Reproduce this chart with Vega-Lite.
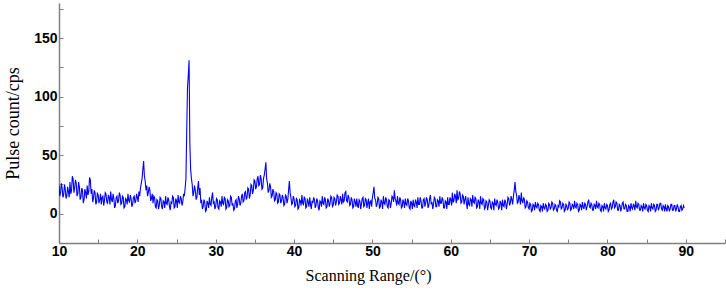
{
  "$schema": "https://vega.github.io/schema/vega-lite/v6.json",
  "autosize": {"type": "none"},
  "padding": {"left": 59, "top": 3, "right": 1, "bottom": 49},
  "width": 666,
  "height": 240,
  "background": "white",
  "config": {"view": {"stroke": null}},
  "data": {"values": [
{"x":10.0,"y":24},{"x":10.1,"y":15},{"x":10.2,"y":18},{"x":10.3,"y":26},{"x":10.4,"y":22},{"x":10.5,"y":14},{"x":10.6,"y":16},{"x":10.7,"y":25},{"x":10.8,"y":21},{"x":10.9,"y":13},
{"x":11.0,"y":15},{"x":11.1,"y":23},{"x":11.2,"y":19},{"x":11.3,"y":14},{"x":11.4,"y":27},{"x":11.5,"y":17},{"x":11.6,"y":20},{"x":11.7,"y":32},{"x":11.8,"y":30},{"x":11.9,"y":18},
{"x":12.0,"y":22},{"x":12.1,"y":29},{"x":12.2,"y":26},{"x":12.3,"y":15},{"x":12.4,"y":17},{"x":12.5,"y":27},{"x":12.6,"y":23},{"x":12.7,"y":12},{"x":12.8,"y":14},{"x":12.9,"y":22},
{"x":13.0,"y":20},{"x":13.1,"y":9},{"x":13.2,"y":12},{"x":13.3,"y":21},{"x":13.4,"y":18},{"x":13.5,"y":13},{"x":13.6,"y":24},{"x":13.7,"y":16},{"x":13.8,"y":19},{"x":13.9,"y":31},
{"x":14.0,"y":29},{"x":14.1,"y":17},{"x":14.2,"y":21},{"x":14.3,"y":10},{"x":14.4,"y":13},{"x":14.5,"y":20},{"x":14.6,"y":18},{"x":14.7,"y":8},{"x":14.8,"y":10},{"x":14.9,"y":18},
{"x":15.0,"y":16},{"x":15.1,"y":9},{"x":15.2,"y":12},{"x":15.3,"y":17},{"x":15.4,"y":8},{"x":15.5,"y":14},{"x":15.6,"y":15},{"x":15.7,"y":7},{"x":15.8,"y":11},{"x":15.9,"y":18},
{"x":16.0,"y":17},{"x":16.1,"y":10},{"x":16.2,"y":9},{"x":16.3,"y":16},{"x":16.4,"y":14},{"x":16.5,"y":8},{"x":16.6,"y":19},{"x":16.7,"y":12},{"x":16.8,"y":10},{"x":16.9,"y":17},
{"x":17.0,"y":13},{"x":17.1,"y":5},{"x":17.2,"y":7},{"x":17.3,"y":14},{"x":17.4,"y":15},{"x":17.5,"y":9},{"x":17.6,"y":11},{"x":17.7,"y":18},{"x":17.8,"y":16},{"x":17.9,"y":8},
{"x":18.0,"y":9},{"x":18.1,"y":15},{"x":18.2,"y":14},{"x":18.3,"y":5},{"x":18.4,"y":6},{"x":18.5,"y":13},{"x":18.6,"y":12},{"x":18.7,"y":8},{"x":18.8,"y":17},{"x":18.9,"y":11},
{"x":19.0,"y":10},{"x":19.1,"y":16},{"x":19.2,"y":13},{"x":19.3,"y":6},{"x":19.4,"y":8},{"x":19.5,"y":14},{"x":19.6,"y":15},{"x":19.7,"y":9},{"x":19.8,"y":11},{"x":19.9,"y":17},
{"x":20.0,"y":14},{"x":20.1,"y":10},{"x":20.2,"y":19},{"x":20.3,"y":15},{"x":20.4,"y":22},{"x":20.5,"y":26},{"x":20.6,"y":30},{"x":20.7,"y":38},{"x":20.8,"y":45},{"x":20.9,"y":32},
{"x":21.0,"y":28},{"x":21.1,"y":20},{"x":21.2,"y":24},{"x":21.3,"y":15},{"x":21.4,"y":18},{"x":21.5,"y":23},{"x":21.6,"y":20},{"x":21.7,"y":11},{"x":21.8,"y":13},{"x":21.9,"y":17},
{"x":22.0,"y":9},{"x":22.1,"y":15},{"x":22.2,"y":14},{"x":22.3,"y":6},{"x":22.4,"y":5},{"x":22.5,"y":12},{"x":22.6,"y":11},{"x":22.7,"y":4},{"x":22.8,"y":7},{"x":22.9,"y":14},
{"x":23.0,"y":13},{"x":23.1,"y":6},{"x":23.2,"y":4},{"x":23.3,"y":11},{"x":23.4,"y":10},{"x":23.5,"y":5},{"x":23.6,"y":15},{"x":23.7,"y":9},{"x":23.8,"y":8},{"x":23.9,"y":14},
{"x":24.0,"y":12},{"x":24.1,"y":6},{"x":24.2,"y":3},{"x":24.3,"y":10},{"x":24.4,"y":9},{"x":24.5,"y":15},{"x":24.6,"y":14},{"x":24.7,"y":5},{"x":24.8,"y":6},{"x":24.9,"y":13},
{"x":25.0,"y":11},{"x":25.1,"y":5},{"x":25.2,"y":16},{"x":25.3,"y":10},{"x":25.4,"y":9},{"x":25.5,"y":15},{"x":25.6,"y":13},{"x":25.7,"y":7},{"x":25.8,"y":10},{"x":25.9,"y":17},
{"x":26.0,"y":15},{"x":26.1,"y":22},{"x":26.2,"y":30},{"x":26.3,"y":70},{"x":26.4,"y":108},{"x":26.5,"y":118},{"x":26.6,"y":131},{"x":26.7,"y":60},{"x":26.8,"y":38},{"x":26.9,"y":30},
{"x":27.0,"y":25},{"x":27.1,"y":15},{"x":27.2,"y":18},{"x":27.3,"y":24},{"x":27.4,"y":20},{"x":27.5,"y":12},{"x":27.6,"y":14},{"x":27.7,"y":22},{"x":27.8,"y":28},{"x":27.9,"y":16},
{"x":28.0,"y":22},{"x":28.1,"y":9},{"x":28.2,"y":12},{"x":28.3,"y":4},{"x":28.4,"y":6},{"x":28.5,"y":12},{"x":28.6,"y":10},{"x":28.7,"y":2},{"x":28.8,"y":3},{"x":28.9,"y":11},
{"x":29.0,"y":9},{"x":29.1,"y":5},{"x":29.2,"y":14},{"x":29.3,"y":8},{"x":29.4,"y":7},{"x":29.5,"y":14},{"x":29.6,"y":18},{"x":29.7,"y":9},{"x":29.8,"y":10},{"x":29.9,"y":4},
{"x":30.0,"y":6},{"x":30.1,"y":13},{"x":30.2,"y":12},{"x":30.3,"y":5},{"x":30.4,"y":4},{"x":30.5,"y":11},{"x":30.6,"y":10},{"x":30.7,"y":6},{"x":30.8,"y":15},{"x":30.9,"y":9},
{"x":31.0,"y":8},{"x":31.1,"y":14},{"x":31.2,"y":13},{"x":31.3,"y":4},{"x":31.4,"y":5},{"x":31.5,"y":12},{"x":31.6,"y":11},{"x":31.7,"y":6},{"x":31.8,"y":7},{"x":31.9,"y":15},
{"x":32.0,"y":14},{"x":32.1,"y":7},{"x":32.2,"y":9},{"x":32.3,"y":3},{"x":32.4,"y":4},{"x":32.5,"y":11},{"x":32.6,"y":12},{"x":32.7,"y":5},{"x":32.8,"y":8},{"x":32.9,"y":15},
{"x":33.0,"y":13},{"x":33.1,"y":7},{"x":33.2,"y":9},{"x":33.3,"y":15},{"x":33.4,"y":17},{"x":33.5,"y":10},{"x":33.6,"y":11},{"x":33.7,"y":18},{"x":33.8,"y":19},{"x":33.9,"y":12},
{"x":34.0,"y":14},{"x":34.1,"y":22},{"x":34.2,"y":21},{"x":34.3,"y":13},{"x":34.4,"y":16},{"x":34.5,"y":25},{"x":34.6,"y":24},{"x":34.7,"y":17},{"x":34.8,"y":20},{"x":34.9,"y":29},
{"x":35.0,"y":28},{"x":35.1,"y":21},{"x":35.2,"y":23},{"x":35.3,"y":30},{"x":35.4,"y":32},{"x":35.5,"y":24},{"x":35.6,"y":25},{"x":35.7,"y":33},{"x":35.8,"y":30},{"x":35.9,"y":21},
{"x":36.0,"y":22},{"x":36.1,"y":30},{"x":36.2,"y":33},{"x":36.3,"y":38},{"x":36.4,"y":44},{"x":36.5,"y":30},{"x":36.6,"y":26},{"x":36.7,"y":18},{"x":36.8,"y":20},{"x":36.9,"y":26},
{"x":37.0,"y":23},{"x":37.1,"y":14},{"x":37.2,"y":15},{"x":37.3,"y":21},{"x":37.4,"y":19},{"x":37.5,"y":11},{"x":37.6,"y":12},{"x":37.7,"y":18},{"x":37.8,"y":17},{"x":37.9,"y":9},
{"x":38.0,"y":10},{"x":38.1,"y":17},{"x":38.2,"y":16},{"x":38.3,"y":9},{"x":38.4,"y":11},{"x":38.5,"y":16},{"x":38.6,"y":14},{"x":38.7,"y":7},{"x":38.8,"y":8},{"x":38.9,"y":16},
{"x":39.0,"y":15},{"x":39.1,"y":9},{"x":39.2,"y":12},{"x":39.3,"y":20},{"x":39.4,"y":28},{"x":39.5,"y":18},{"x":39.6,"y":14},{"x":39.7,"y":8},{"x":39.8,"y":9},{"x":39.9,"y":15},
{"x":40.0,"y":13},{"x":40.1,"y":6},{"x":40.2,"y":7},{"x":40.3,"y":13},{"x":40.4,"y":12},{"x":40.5,"y":4},{"x":40.6,"y":5},{"x":40.7,"y":12},{"x":40.8,"y":11},{"x":40.9,"y":7},
{"x":41.0,"y":16},{"x":41.1,"y":9},{"x":41.2,"y":8},{"x":41.3,"y":14},{"x":41.4,"y":13},{"x":41.5,"y":5},{"x":41.6,"y":6},{"x":41.7,"y":13},{"x":41.8,"y":10},{"x":41.9,"y":6},
{"x":42.0,"y":14},{"x":42.1,"y":8},{"x":42.2,"y":4},{"x":42.3,"y":11},{"x":42.4,"y":9},{"x":42.5,"y":14},{"x":42.6,"y":12},{"x":42.7,"y":5},{"x":42.8,"y":7},{"x":42.9,"y":13},
{"x":43.0,"y":11},{"x":43.1,"y":5},{"x":43.2,"y":3},{"x":43.3,"y":11},{"x":43.4,"y":10},{"x":43.5,"y":6},{"x":43.6,"y":15},{"x":43.7,"y":9},{"x":43.8,"y":8},{"x":43.9,"y":14},
{"x":44.0,"y":12},{"x":44.1,"y":5},{"x":44.2,"y":6},{"x":44.3,"y":13},{"x":44.4,"y":11},{"x":44.5,"y":6},{"x":44.6,"y":9},{"x":44.7,"y":15},{"x":44.8,"y":14},{"x":44.9,"y":6},
{"x":45.0,"y":7},{"x":45.1,"y":14},{"x":45.2,"y":13},{"x":45.3,"y":7},{"x":45.4,"y":10},{"x":45.5,"y":16},{"x":45.6,"y":15},{"x":45.7,"y":8},{"x":45.8,"y":9},{"x":45.9,"y":15},
{"x":46.0,"y":12},{"x":46.1,"y":8},{"x":46.2,"y":17},{"x":46.3,"y":10},{"x":46.4,"y":11},{"x":46.5,"y":18},{"x":46.6,"y":19},{"x":46.7,"y":11},{"x":46.8,"y":10},{"x":46.9,"y":16},
{"x":47.0,"y":14},{"x":47.1,"y":7},{"x":47.2,"y":8},{"x":47.3,"y":14},{"x":47.4,"y":12},{"x":47.5,"y":5},{"x":47.6,"y":6},{"x":47.7,"y":13},{"x":47.8,"y":10},{"x":47.9,"y":6},
{"x":48.0,"y":13},{"x":48.1,"y":7},{"x":48.2,"y":5},{"x":48.3,"y":12},{"x":48.4,"y":11},{"x":48.5,"y":4},{"x":48.6,"y":8},{"x":48.7,"y":13},{"x":48.8,"y":14},{"x":48.9,"y":6},
{"x":49.0,"y":7},{"x":49.1,"y":13},{"x":49.2,"y":12},{"x":49.3,"y":5},{"x":49.4,"y":9},{"x":49.5,"y":13},{"x":49.6,"y":4},{"x":49.7,"y":10},{"x":49.8,"y":11},{"x":49.9,"y":6},
{"x":50.0,"y":14},{"x":50.1,"y":18},{"x":50.2,"y":23},{"x":50.3,"y":13},{"x":50.4,"y":12},{"x":50.5,"y":6},{"x":50.6,"y":8},{"x":50.7,"y":14},{"x":50.8,"y":13},{"x":50.9,"y":5},
{"x":51.0,"y":6},{"x":51.1,"y":12},{"x":51.2,"y":10},{"x":51.3,"y":4},{"x":51.4,"y":15},{"x":51.5,"y":9},{"x":51.6,"y":8},{"x":51.7,"y":14},{"x":51.8,"y":12},{"x":51.9,"y":6},
{"x":52.0,"y":5},{"x":52.1,"y":12},{"x":52.2,"y":11},{"x":52.3,"y":5},{"x":52.4,"y":9},{"x":52.5,"y":15},{"x":52.6,"y":14},{"x":52.7,"y":10},{"x":52.8,"y":20},{"x":52.9,"y":13},
{"x":53.0,"y":11},{"x":53.1,"y":7},{"x":53.2,"y":15},{"x":53.3,"y":9},{"x":53.4,"y":8},{"x":53.5,"y":14},{"x":53.6,"y":12},{"x":53.7,"y":5},{"x":53.8,"y":6},{"x":53.9,"y":12},
{"x":54.0,"y":10},{"x":54.1,"y":5},{"x":54.2,"y":13},{"x":54.3,"y":8},{"x":54.4,"y":7},{"x":54.5,"y":13},{"x":54.6,"y":11},{"x":54.7,"y":5},{"x":54.8,"y":4},{"x":54.9,"y":11},
{"x":55.0,"y":9},{"x":55.1,"y":4},{"x":55.2,"y":12},{"x":55.3,"y":7},{"x":55.4,"y":6},{"x":55.5,"y":12},{"x":55.6,"y":10},{"x":55.7,"y":5},{"x":55.8,"y":14},{"x":55.9,"y":8},
{"x":56.0,"y":8},{"x":56.1,"y":14},{"x":56.2,"y":11},{"x":56.3,"y":5},{"x":56.4,"y":5},{"x":56.5,"y":12},{"x":56.6,"y":13},{"x":56.7,"y":6},{"x":56.8,"y":9},{"x":56.9,"y":14},
{"x":57.0,"y":12},{"x":57.1,"y":5},{"x":57.2,"y":7},{"x":57.3,"y":13},{"x":57.4,"y":16},{"x":57.5,"y":8},{"x":57.6,"y":10},{"x":57.7,"y":4},{"x":57.8,"y":8},{"x":57.9,"y":14},
{"x":58.0,"y":13},{"x":58.1,"y":6},{"x":58.2,"y":6},{"x":58.3,"y":12},{"x":58.4,"y":11},{"x":58.5,"y":6},{"x":58.6,"y":15},{"x":58.7,"y":9},{"x":58.8,"y":9},{"x":58.9,"y":14},
{"x":59.0,"y":12},{"x":59.1,"y":5},{"x":59.2,"y":5},{"x":59.3,"y":11},{"x":59.4,"y":10},{"x":59.5,"y":4},{"x":59.6,"y":14},{"x":59.7,"y":8},{"x":59.8,"y":8},{"x":59.9,"y":14},
{"x":60.0,"y":12},{"x":60.1,"y":7},{"x":60.2,"y":18},{"x":60.3,"y":10},{"x":60.4,"y":11},{"x":60.5,"y":17},{"x":60.6,"y":15},{"x":60.7,"y":9},{"x":60.8,"y":20},{"x":60.9,"y":12},
{"x":61.0,"y":13},{"x":61.1,"y":19},{"x":61.2,"y":17},{"x":61.3,"y":9},{"x":61.4,"y":10},{"x":61.5,"y":16},{"x":61.6,"y":15},{"x":61.7,"y":8},{"x":61.8,"y":12},{"x":61.9,"y":15},
{"x":62.0,"y":9},{"x":62.1,"y":4},{"x":62.2,"y":14},{"x":62.3,"y":8},{"x":62.4,"y":7},{"x":62.5,"y":13},{"x":62.6,"y":12},{"x":62.7,"y":6},{"x":62.8,"y":16},{"x":62.9,"y":10},
{"x":63.0,"y":9},{"x":63.1,"y":14},{"x":63.2,"y":13},{"x":63.3,"y":5},{"x":63.4,"y":6},{"x":63.5,"y":12},{"x":63.6,"y":10},{"x":63.7,"y":4},{"x":63.8,"y":15},{"x":63.9,"y":9},
{"x":64.0,"y":8},{"x":64.1,"y":13},{"x":64.2,"y":12},{"x":64.3,"y":4},{"x":64.4,"y":5},{"x":64.5,"y":11},{"x":64.6,"y":10},{"x":64.7,"y":3},{"x":64.8,"y":7},{"x":64.9,"y":12},
{"x":65.0,"y":11},{"x":65.1,"y":5},{"x":65.2,"y":4},{"x":65.3,"y":10},{"x":65.4,"y":9},{"x":65.5,"y":3},{"x":65.6,"y":13},{"x":65.7,"y":8},{"x":65.8,"y":7},{"x":65.9,"y":12},
{"x":66.0,"y":10},{"x":66.1,"y":4},{"x":66.2,"y":5},{"x":66.3,"y":11},{"x":66.4,"y":9},{"x":66.5,"y":3},{"x":66.6,"y":12},{"x":66.7,"y":7},{"x":66.8,"y":6},{"x":66.9,"y":12},
{"x":67.0,"y":10},{"x":67.1,"y":4},{"x":67.2,"y":8},{"x":67.3,"y":14},{"x":67.4,"y":13},{"x":67.5,"y":7},{"x":67.6,"y":9},{"x":67.7,"y":15},{"x":67.8,"y":12},{"x":67.9,"y":8},
{"x":68.0,"y":15},{"x":68.1,"y":20},{"x":68.2,"y":27},{"x":68.3,"y":19},{"x":68.4,"y":16},{"x":68.5,"y":9},{"x":68.6,"y":10},{"x":68.7,"y":16},{"x":68.8,"y":13},{"x":68.9,"y":8},
{"x":69.0,"y":18},{"x":69.1,"y":11},{"x":69.2,"y":9},{"x":69.3,"y":14},{"x":69.4,"y":12},{"x":69.5,"y":5},{"x":69.6,"y":6},{"x":69.7,"y":11},{"x":69.8,"y":10},{"x":69.9,"y":5},
{"x":70.0,"y":4},{"x":70.1,"y":9},{"x":70.2,"y":8},{"x":70.3,"y":2},{"x":70.4,"y":3},{"x":70.5,"y":8},{"x":70.6,"y":7},{"x":70.7,"y":3},{"x":70.8,"y":10},{"x":70.9,"y":6},
{"x":71.0,"y":5},{"x":71.1,"y":9},{"x":71.2,"y":8},{"x":71.3,"y":3},{"x":71.4,"y":2},{"x":71.5,"y":7},{"x":71.6,"y":6},{"x":71.7,"y":2},{"x":71.8,"y":9},{"x":71.9,"y":5},
{"x":72.0,"y":4},{"x":72.1,"y":8},{"x":72.2,"y":7},{"x":72.3,"y":2},{"x":72.4,"y":3},{"x":72.5,"y":9},{"x":72.6,"y":8},{"x":72.7,"y":4},{"x":72.8,"y":5},{"x":72.9,"y":10},
{"x":73.0,"y":9},{"x":73.1,"y":3},{"x":73.2,"y":4},{"x":73.3,"y":8},{"x":73.4,"y":7},{"x":73.5,"y":3},{"x":73.6,"y":2},{"x":73.7,"y":7},{"x":73.8,"y":6},{"x":73.9,"y":11},
{"x":74.0,"y":10},{"x":74.1,"y":4},{"x":74.2,"y":5},{"x":74.3,"y":9},{"x":74.4,"y":8},{"x":74.5,"y":2},{"x":74.6,"y":3},{"x":74.7,"y":8},{"x":74.8,"y":7},{"x":74.9,"y":3},
{"x":75.0,"y":5},{"x":75.1,"y":10},{"x":75.2,"y":9},{"x":75.3,"y":3},{"x":75.4,"y":4},{"x":75.5,"y":8},{"x":75.6,"y":7},{"x":75.7,"y":4},{"x":75.8,"y":11},{"x":75.9,"y":6},
{"x":76.0,"y":5},{"x":76.1,"y":9},{"x":76.2,"y":8},{"x":76.3,"y":2},{"x":76.4,"y":3},{"x":76.5,"y":8},{"x":76.6,"y":7},{"x":76.7,"y":3},{"x":76.8,"y":10},{"x":76.9,"y":6},
{"x":77.0,"y":4},{"x":77.1,"y":9},{"x":77.2,"y":8},{"x":77.3,"y":3},{"x":77.4,"y":6},{"x":77.5,"y":10},{"x":77.6,"y":12},{"x":77.7,"y":6},{"x":77.8,"y":5},{"x":77.9,"y":9},
{"x":78.0,"y":8},{"x":78.1,"y":3},{"x":78.2,"y":3},{"x":78.3,"y":8},{"x":78.4,"y":7},{"x":78.5,"y":4},{"x":78.6,"y":11},{"x":78.7,"y":6},{"x":78.8,"y":5},{"x":78.9,"y":9},
{"x":79.0,"y":8},{"x":79.1,"y":3},{"x":79.2,"y":2},{"x":79.3,"y":7},{"x":79.4,"y":6},{"x":79.5,"y":2},{"x":79.6,"y":9},{"x":79.7,"y":5},{"x":79.8,"y":4},{"x":79.9,"y":8},
{"x":80.0,"y":7},{"x":80.1,"y":2},{"x":80.2,"y":3},{"x":80.3,"y":8},{"x":80.4,"y":9},{"x":80.5,"y":4},{"x":80.6,"y":5},{"x":80.7,"y":10},{"x":80.8,"y":12},{"x":80.9,"y":5},
{"x":81.0,"y":6},{"x":81.1,"y":10},{"x":81.2,"y":9},{"x":81.3,"y":3},{"x":81.4,"y":3},{"x":81.5,"y":8},{"x":81.6,"y":7},{"x":81.7,"y":2},{"x":81.8,"y":5},{"x":81.9,"y":9},
{"x":82.0,"y":10},{"x":82.1,"y":4},{"x":82.2,"y":4},{"x":82.3,"y":8},{"x":82.4,"y":7},{"x":82.5,"y":2},{"x":82.6,"y":2},{"x":82.7,"y":7},{"x":82.8,"y":6},{"x":82.9,"y":2},
{"x":83.0,"y":9},{"x":83.1,"y":5},{"x":83.2,"y":4},{"x":83.3,"y":8},{"x":83.4,"y":7},{"x":83.5,"y":3},{"x":83.6,"y":11},{"x":83.7,"y":6},{"x":83.8,"y":5},{"x":83.9,"y":9},
{"x":84.0,"y":8},{"x":84.1,"y":3},{"x":84.2,"y":3},{"x":84.3,"y":7},{"x":84.4,"y":6},{"x":84.5,"y":2},{"x":84.6,"y":9},{"x":84.7,"y":5},{"x":84.8,"y":4},{"x":84.9,"y":8},
{"x":85.0,"y":7},{"x":85.1,"y":3},{"x":85.2,"y":2},{"x":85.3,"y":7},{"x":85.4,"y":6},{"x":85.5,"y":2},{"x":85.6,"y":9},{"x":85.7,"y":5},{"x":85.8,"y":4},{"x":85.9,"y":8},
{"x":86.0,"y":7},{"x":86.1,"y":2},{"x":86.2,"y":3},{"x":86.3,"y":8},{"x":86.4,"y":8},{"x":86.5,"y":3},{"x":86.6,"y":5},{"x":86.7,"y":9},{"x":86.8,"y":9},{"x":86.9,"y":4},
{"x":87.0,"y":3},{"x":87.1,"y":7},{"x":87.2,"y":6},{"x":87.3,"y":2},{"x":87.4,"y":8},{"x":87.5,"y":4},{"x":87.6,"y":2},{"x":87.7,"y":7},{"x":87.8,"y":6},{"x":87.9,"y":2},
{"x":88.0,"y":4},{"x":88.1,"y":8},{"x":88.2,"y":8},{"x":88.3,"y":3},{"x":88.4,"y":3},{"x":88.5,"y":7},{"x":88.6,"y":7},{"x":88.7,"y":2},{"x":88.8,"y":4},{"x":88.9,"y":8},
{"x":89.0,"y":6},{"x":89.1,"y":2},{"x":89.2,"y":2},{"x":89.3,"y":6},{"x":89.4,"y":7},{"x":89.5,"y":3},{"x":89.6,"y":4},{"x":89.7,"y":7},{"x":89.8,"y":5}
  ]},
  "mark": {"type": "line", "color": "#0000ff", "strokeWidth": 1.1, "clip": true},
  "encoding": {
    "x": {
      "field": "x", "type": "quantitative",
      "scale": {"domain": [10, 95], "nice": false, "zero": false},
      "axis": {
        "title": "Scanning Range/(°)",
        "values": [10, 15, 20, 25, 30, 35, 40, 45, 50, 55, 60, 65, 70, 75, 80, 85, 90, 95],
        "labelExpr": "datum.value % 10 === 0 && datum.value < 95 ? datum.label : ''",
        "grid": false,
        "domainColor": "#808080", "domainWidth": 1.5,
        "tickColor": "#808080", "tickSize": -4, "tickWidth": 1,
        "labelFont": "Liberation Sans", "labelFontWeight": "bold", "labelFontSize": 14, "labelColor": "#000000",
        "labelPadding": 5, "labelFlush": false,
        "titleFont": "Liberation Serif", "titleFontWeight": "normal", "titleFontSize": 16, "titleColor": "#000000",
        "titlePadding": 9, "titleX": 309
      }
    },
    "y": {
      "field": "y", "type": "quantitative",
      "scale": {"domain": [-25, 180], "nice": false, "zero": false},
      "axis": {
        "title": "Pulse count/cps",
        "values": [-25, 0, 25, 50, 75, 100, 125, 150, 175],
        "labelExpr": "datum.value % 50 === 0 ? datum.label : ''",
        "grid": false,
        "domainColor": "#808080", "domainWidth": 1.5,
        "tickColor": "#808080", "tickSize": -4, "tickWidth": 1,
        "labelFont": "Liberation Sans", "labelFontWeight": "bold", "labelFontSize": 14, "labelColor": "#000000",
        "labelPadding": 6, "labelFlush": false,
        "titleFont": "Liberation Serif", "titleFontWeight": "normal", "titleFontSize": 18, "titleColor": "#000000",
        "titlePadding": 11
      }
    }
  }
}
